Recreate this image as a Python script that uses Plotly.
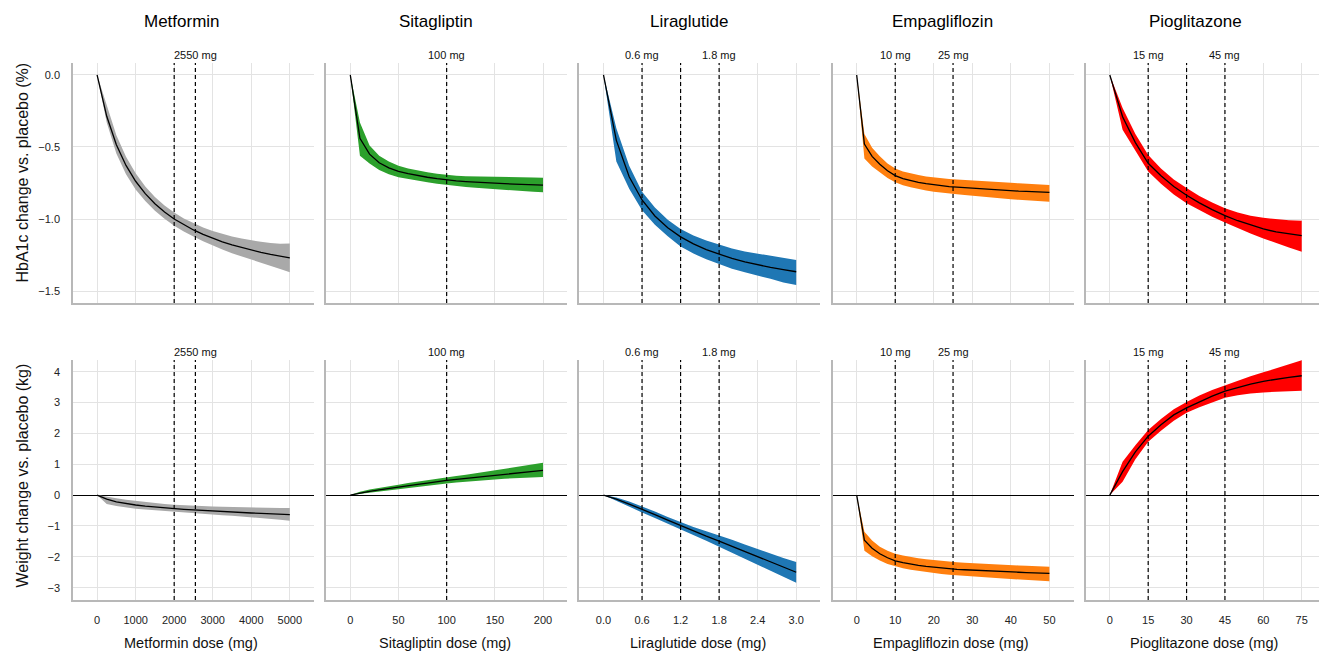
import plotly.graph_objects as go

# ---------------- data ----------------
drugs = ["Metformin", "Sitagliptin", "Liraglutide", "Empagliflozin", "Pioglitazone"]
band_colors = ["#a9a9a9", "#2ca02c", "#1f77b4", "#ff7f0e", "#ff0000"]
x_titles = ["Metformin dose (mg)", "Sitagliptin dose (mg)", "Liraglutide dose (mg)",
            "Empagliflozin dose (mg)", "Pioglitazone dose (mg)"]
y_titles = ["HbA1c change vs. placebo (%)", "Weight change vs. placebo (kg)"]

# Metformin
metformin_dose = [0, 250, 500, 750, 1000, 1250, 1500, 1750, 2000, 2250, 2500, 2750,
                  3000, 3250, 3500, 3750, 4000, 4250, 4500, 4750, 5000]
metformin_hba1c = [0, -0.287, -0.484, -0.628, -0.738, -0.824, -0.894, -0.952, -1.000, -1.041,
                   -1.076, -1.107, -1.134, -1.158, -1.180, -1.199, -1.216, -1.232, -1.246,
                   -1.259, -1.270]
metformin_hba1c_hi = [0, -0.217, -0.419, -0.568, -0.683, -0.774, -0.847, -0.907, -0.955, -0.996,
                      -1.030, -1.059, -1.084, -1.104, -1.122, -1.136, -1.148, -1.158, -1.166,
                      -1.171, -1.170]
metformin_hba1c_lo = [0, -0.33, -0.545, -0.69, -0.795, -0.875, -0.942, -0.998, -1.046, -1.087,
                      -1.122, -1.155, -1.184, -1.212, -1.238, -1.262, -1.284, -1.306, -1.326,
                      -1.347, -1.370]
metformin_wt = [0, -0.13, -0.22, -0.28, -0.32, -0.36, -0.39, -0.42, -0.44, -0.46, -0.48,
                -0.50, -0.52, -0.53, -0.55, -0.56, -0.58, -0.59, -0.60, -0.61, -0.63]
metformin_wt_hi = [0, -0.04, -0.10, -0.15, -0.19, -0.23, -0.26, -0.29, -0.31, -0.33, -0.35,
                   -0.36, -0.37, -0.38, -0.39, -0.40, -0.40, -0.41, -0.41, -0.42, -0.42]
metformin_wt_lo = [0, -0.29, -0.35, -0.40, -0.44, -0.47, -0.50, -0.53, -0.55, -0.57, -0.59,
                   -0.61, -0.63, -0.65, -0.67, -0.69, -0.71, -0.74, -0.77, -0.80, -0.83]

# Sitagliptin
sitagliptin_dose = [0, 10, 20, 30, 40, 50, 60, 70, 80, 90, 100, 110, 120, 130, 140, 150,
                    160, 170, 180, 190, 200]
sitagliptin_hba1c = [0, -0.44, -0.55, -0.61, -0.645, -0.67, -0.685, -0.70, -0.71, -0.72, -0.73,
                     -0.735, -0.74, -0.745, -0.75, -0.752, -0.755, -0.758, -0.76, -0.763, -0.765]
sitagliptin_hba1c_hi = [0, -0.33, -0.49, -0.56, -0.60, -0.63, -0.65, -0.665, -0.675, -0.685, -0.695,
                        -0.70, -0.703, -0.705, -0.707, -0.708, -0.709, -0.71, -0.711, -0.712, -0.713]
sitagliptin_hba1c_lo = [0, -0.56, -0.615, -0.66, -0.69, -0.71, -0.72, -0.735, -0.745, -0.755, -0.765,
                        -0.77, -0.777, -0.783, -0.788, -0.793, -0.798, -0.803, -0.807, -0.811, -0.815]
sitagliptin_wt = [0, 0.07, 0.12, 0.17, 0.22, 0.26, 0.31, 0.35, 0.39, 0.44, 0.48,
                  0.51, 0.545, 0.575, 0.61, 0.64, 0.67, 0.70, 0.735, 0.77, 0.80]
sitagliptin_wt_hi = [0, 0.11, 0.18, 0.24, 0.29, 0.34, 0.39, 0.44, 0.48, 0.53, 0.58,
                     0.62, 0.66, 0.71, 0.75, 0.80, 0.84, 0.89, 0.94, 0.99, 1.05]
sitagliptin_wt_lo = [0, 0.03, 0.07, 0.11, 0.15, 0.19, 0.23, 0.27, 0.30, 0.34, 0.38,
                     0.41, 0.44, 0.46, 0.49, 0.51, 0.53, 0.55, 0.57, 0.58, 0.59]

# Liraglutide
liraglutide_dose = [0, 0.2, 0.4, 0.6, 0.8, 1.0, 1.2, 1.4, 1.6, 1.8, 2.0, 2.2, 2.4, 2.6, 2.8, 3.0]
liraglutide_hba1c = [0, -0.454, -0.707, -0.868, -0.979, -1.061, -1.124, -1.173, -1.213, -1.246,
                     -1.274, -1.298, -1.318, -1.336, -1.352, -1.366]
liraglutide_hba1c_hi = [0, -0.37, -0.63, -0.81, -0.92, -1.005, -1.07, -1.115, -1.15, -1.18,
                        -1.205, -1.225, -1.24, -1.255, -1.27, -1.285]
liraglutide_hba1c_lo = [0, -0.60, -0.79, -0.94, -1.04, -1.12, -1.19, -1.24, -1.28, -1.315,
                        -1.345, -1.37, -1.395, -1.415, -1.44, -1.458]
liraglutide_wt = [0, -0.13, -0.29, -0.45, -0.63, -0.81, -0.99, -1.16, -1.33, -1.49,
                  -1.66, -1.83, -2.00, -2.17, -2.33, -2.50]
liraglutide_wt_hi = [0, -0.08, -0.21, -0.36, -0.53, -0.71, -0.88, -1.03, -1.17, -1.30,
                     -1.45, -1.60, -1.75, -1.90, -2.04, -2.17]
liraglutide_wt_lo = [0, -0.17, -0.37, -0.56, -0.74, -0.92, -1.10, -1.29, -1.48, -1.67,
                     -1.86, -2.06, -2.25, -2.45, -2.65, -2.84]

# Empagliflozin
empagliflozin_dose = [0, 2, 4, 6, 8, 10, 12, 14, 16, 18, 20, 22, 24, 26, 28, 30, 32, 34, 36,
                      38, 40, 42, 44, 46, 48, 50]
empagliflozin_hba1c = [0, -0.48, -0.565, -0.62, -0.665, -0.699, -0.72, -0.735, -0.745, -0.755,
                       -0.763, -0.77, -0.775, -0.779, -0.783, -0.787, -0.791, -0.794, -0.797,
                       -0.800, -0.803, -0.806, -0.808, -0.811, -0.813, -0.815]
empagliflozin_hba1c_hi = [0, -0.41, -0.505, -0.565, -0.615, -0.65, -0.67, -0.685, -0.695, -0.705,
                          -0.712, -0.718, -0.722, -0.726, -0.73, -0.734, -0.737, -0.74, -0.743,
                          -0.746, -0.749, -0.752, -0.755, -0.758, -0.761, -0.764]
empagliflozin_hba1c_lo = [0, -0.58, -0.635, -0.675, -0.715, -0.745, -0.765, -0.78, -0.792, -0.802,
                          -0.81, -0.817, -0.823, -0.828, -0.834, -0.839, -0.844, -0.849, -0.854,
                          -0.859, -0.863, -0.867, -0.871, -0.875, -0.878, -0.88]
empagliflozin_wt = [0, -1.46, -1.72, -1.90, -2.03, -2.13, -2.19, -2.24, -2.28, -2.31, -2.34,
                    -2.365, -2.39, -2.405, -2.42, -2.435, -2.45, -2.46, -2.47, -2.48, -2.49,
                    -2.50, -2.51, -2.52, -2.53, -2.54]
empagliflozin_wt_hi = [0, -1.19, -1.47, -1.67, -1.80, -1.90, -1.96, -2.01, -2.05, -2.08, -2.11,
                       -2.135, -2.16, -2.18, -2.195, -2.21, -2.225, -2.24, -2.25, -2.26, -2.27,
                       -2.28, -2.29, -2.30, -2.31, -2.32]
empagliflozin_wt_lo = [0, -1.80, -1.98, -2.12, -2.23, -2.31, -2.37, -2.42, -2.46, -2.50, -2.53,
                       -2.56, -2.585, -2.605, -2.625, -2.64, -2.66, -2.675, -2.69, -2.705, -2.72,
                       -2.735, -2.75, -2.765, -2.78, -2.79]

# Pioglitazone
pioglitazone_dose = [0, 5, 10, 15, 20, 25, 30, 35, 40, 45, 50, 55, 60, 65, 70, 75]
pioglitazone_hba1c = [0, -0.29, -0.47, -0.613, -0.70, -0.775, -0.835, -0.888, -0.935, -0.977,
                      -1.012, -1.042, -1.068, -1.09, -1.105, -1.116]
pioglitazone_hba1c_hi = [0, -0.23, -0.41, -0.556, -0.65, -0.725, -0.785, -0.84, -0.885, -0.925,
                         -0.955, -0.977, -0.992, -1.002, -1.008, -1.012]
pioglitazone_hba1c_lo = [0, -0.38, -0.53, -0.671, -0.755, -0.83, -0.89, -0.94, -0.985, -1.025,
                         -1.065, -1.10, -1.135, -1.168, -1.198, -1.227]
pioglitazone_wt = [0, 0.76, 1.40, 1.91, 2.28, 2.60, 2.83, 3.03, 3.21, 3.37, 3.49, 3.60, 3.69,
                   3.76, 3.82, 3.87]
pioglitazone_wt_hi = [0, 1.08, 1.62, 2.11, 2.47, 2.78, 3.02, 3.23, 3.41, 3.56, 3.71, 3.85, 3.98,
                      4.11, 4.24, 4.37]
pioglitazone_wt_lo = [0, 0.43, 1.16, 1.73, 2.09, 2.41, 2.67, 2.85, 3.01, 3.16, 3.24, 3.29, 3.33,
                      3.35, 3.37, 3.38]

# reference doses (dashed lines) and labelled doses
ref_lines = [[2000, 2550], [100], [0.6, 1.2, 1.8], [10, 25], [15, 30, 45]]
ref_label_dose = [[2550], [100], [0.6, 1.8], [10, 25], [15, 45]]
ref_label_text = [["2550 mg"], ["100 mg"], ["0.6 mg", "1.8 mg"], ["10 mg", "25 mg"], ["15 mg", "45 mg"]]

# axis ticks
x_tickvals = [[0, 1000, 2000, 3000, 4000, 5000], [0, 50, 100, 150, 200],
              [0, 0.6, 1.2, 1.8, 2.4, 3.0], [0, 10, 20, 30, 40, 50], [0, 15, 30, 45, 60, 75]]
x_ticktext = [["0", "1000", "2000", "3000", "4000", "5000"], ["0", "50", "100", "150", "200"],
              ["0.0", "0.6", "1.2", "1.8", "2.4", "3.0"], ["0", "10", "20", "30", "40", "50"],
              ["0", "15", "30", "45", "60", "75"]]
hba1c_ticks = [0.0, -0.5, -1.0, -1.5]
hba1c_ticktext = ["0.0", "\u22120.5", "\u22121.0", "\u22121.5"]
wt_ticks = [4, 3, 2, 1, 0, -1, -2, -3]
wt_ticktext = ["4", "3", "2", "1", "0", "\u22121", "\u22122", "\u22123"]

doses = [metformin_dose, sitagliptin_dose, liraglutide_dose, empagliflozin_dose, pioglitazone_dose]
hba1c = [(metformin_hba1c, metformin_hba1c_lo, metformin_hba1c_hi),
         (sitagliptin_hba1c, sitagliptin_hba1c_lo, sitagliptin_hba1c_hi),
         (liraglutide_hba1c, liraglutide_hba1c_lo, liraglutide_hba1c_hi),
         (empagliflozin_hba1c, empagliflozin_hba1c_lo, empagliflozin_hba1c_hi),
         (pioglitazone_hba1c, pioglitazone_hba1c_lo, pioglitazone_hba1c_hi)]
weight = [(metformin_wt, metformin_wt_lo, metformin_wt_hi),
          (sitagliptin_wt, sitagliptin_wt_lo, sitagliptin_wt_hi),
          (liraglutide_wt, liraglutide_wt_lo, liraglutide_wt_hi),
          (empagliflozin_wt, empagliflozin_wt_lo, empagliflozin_wt_hi),
          (pioglitazone_wt, pioglitazone_wt_lo, pioglitazone_wt_hi)]

# ---------------- layout geometry ----------------
W, H = 1319, 651
ML, MR, MT, MB = 73, 0, 63, 51
PW, PH = W - ML - MR, H - MT - MB
FONT = "Liberation Sans, Arial, Helvetica, sans-serif"
GRID = "#e3e3e3"
AXLINE = "#b8b8b8"

x_ranges = [[-625, 5625], [-25, 225], [-0.375, 3.375], [-6.25, 56.25], [-9.375, 81.75]]
panel_left_px = [ML + 253.2 * i for i in range(5)]
panel_w_px = 240.9
y_dom = [[(PH - 240) / PH, 1.0], [0.0, 240 / PH]]
y_ranges = [[-1.583, 0.083], [-3.40, 4.38]]

fig = go.Figure()
layout = dict(
    width=W, height=H, autosize=False,
    margin=dict(l=ML, r=MR, t=MT, b=MB, pad=0),
    plot_bgcolor="white", paper_bgcolor="white",
    showlegend=False,
    font=dict(family=FONT, size=11, color="#222222"),
)

shapes = []
annotations = []

for row in range(2):
    for col in range(5):
        k = row * 5 + col + 1
        xa = "x" if k == 1 else f"x{k}"
        ya = "y" if k == 1 else f"y{k}"
        x0p = (panel_left_px[col] - ML) / PW
        x1p = min(1.0, (panel_left_px[col] + panel_w_px - ML) / PW)
        layout[f"xaxis{k}"] = dict(
            domain=[max(0.0, x0p), x1p], range=x_ranges[col], anchor=ya,
            tickmode="array", tickvals=x_tickvals[col], ticktext=x_ticktext[col],
            showticklabels=(row == 1), ticks="", ticklabelstandoff=9,
            tickfont=dict(size=11, color="#222222", family=FONT),
            showgrid=True, gridcolor=GRID, gridwidth=1,
            showline=True, linecolor=AXLINE, linewidth=1.5,
            zeroline=False, fixedrange=True,
        )
        layout[f"yaxis{k}"] = dict(
            domain=y_dom[row], range=y_ranges[row], anchor=xa,
            tickmode="array",
            tickvals=hba1c_ticks if row == 0 else wt_ticks,
            ticktext=hba1c_ticktext if row == 0 else wt_ticktext,
            showticklabels=(col == 0), ticks="", ticklabelstandoff=9,
            tickfont=dict(size=11, color="#222222", family=FONT),
            showgrid=True, gridcolor=GRID, gridwidth=1,
            showline=True, linecolor=AXLINE, linewidth=1.5,
            zeroline=(row == 1), zerolinecolor="black", zerolinewidth=1.2,
            fixedrange=True,
        )

        mean, lo, hi = (hba1c if row == 0 else weight)[col]
        d = doses[col]
        fig.add_trace(go.Scatter(
            x=list(d) + list(d)[::-1], y=list(hi) + list(lo)[::-1],
            fill="toself", fillcolor=band_colors[col], line=dict(width=0),
            mode="lines", hoverinfo="skip", xaxis=xa, yaxis=ya,
        ))
        fig.add_trace(go.Scatter(
            x=d, y=mean, mode="lines", line=dict(color="black", width=1.3),
            xaxis=xa, yaxis=ya,
        ))

        for rd in ref_lines[col]:
            shapes.append(dict(
                type="line", xref=xa, yref=f"{ya} domain", x0=rd, x1=rd, y0=0, y1=1,
                line=dict(color="black", width=1.2, dash="4px,3px"), layer="above",
            ))
        for rd, txt in zip(ref_label_dose[col], ref_label_text[col]):
            annotations.append(dict(
                text=txt, xref=xa, yref="paper", x=rd, y=y_dom[row][1] + 8 / PH,
                xanchor="center", yanchor="middle", showarrow=False,
                font=dict(size=11, color="#111111", family=FONT),
            ))

# column titles and x-axis titles
for col in range(5):
    cx = (panel_left_px[col] + panel_w_px / 2 - 11 - ML) / PW
    annotations.append(dict(
        text=drugs[col], xref="paper", yref="paper", x=cx, y=(PH + MT - 22) / PH,
        xanchor="center", yanchor="middle", showarrow=False,
        font=dict(size=17, color="black", family=FONT),
    ))
    xcx = (panel_left_px[col] + panel_w_px / 2 - 2 - ML) / PW
    annotations.append(dict(
        text=x_titles[col], xref="paper", yref="paper", x=xcx, y=-(643 - (MT + PH)) / PH,
        xanchor="center", yanchor="middle", showarrow=False,
        font=dict(size=14.5, color="#111111", family=FONT),
    ))

# y-axis titles
for row, (ypix) in enumerate([173, 476]):
    annotations.append(dict(
        text=y_titles[row], xref="paper", yref="paper", x=(21.5 - ML) / PW,
        y=(MT + PH - ypix) / PH, textangle=-90,
        xanchor="center", yanchor="middle", showarrow=False,
        font=dict(size=16, color="#111111", family=FONT),
    ))

layout["shapes"] = shapes
layout["annotations"] = annotations
fig.update_layout(**layout)
fig.write_html("out.html", config={"displayModeBar": False})
